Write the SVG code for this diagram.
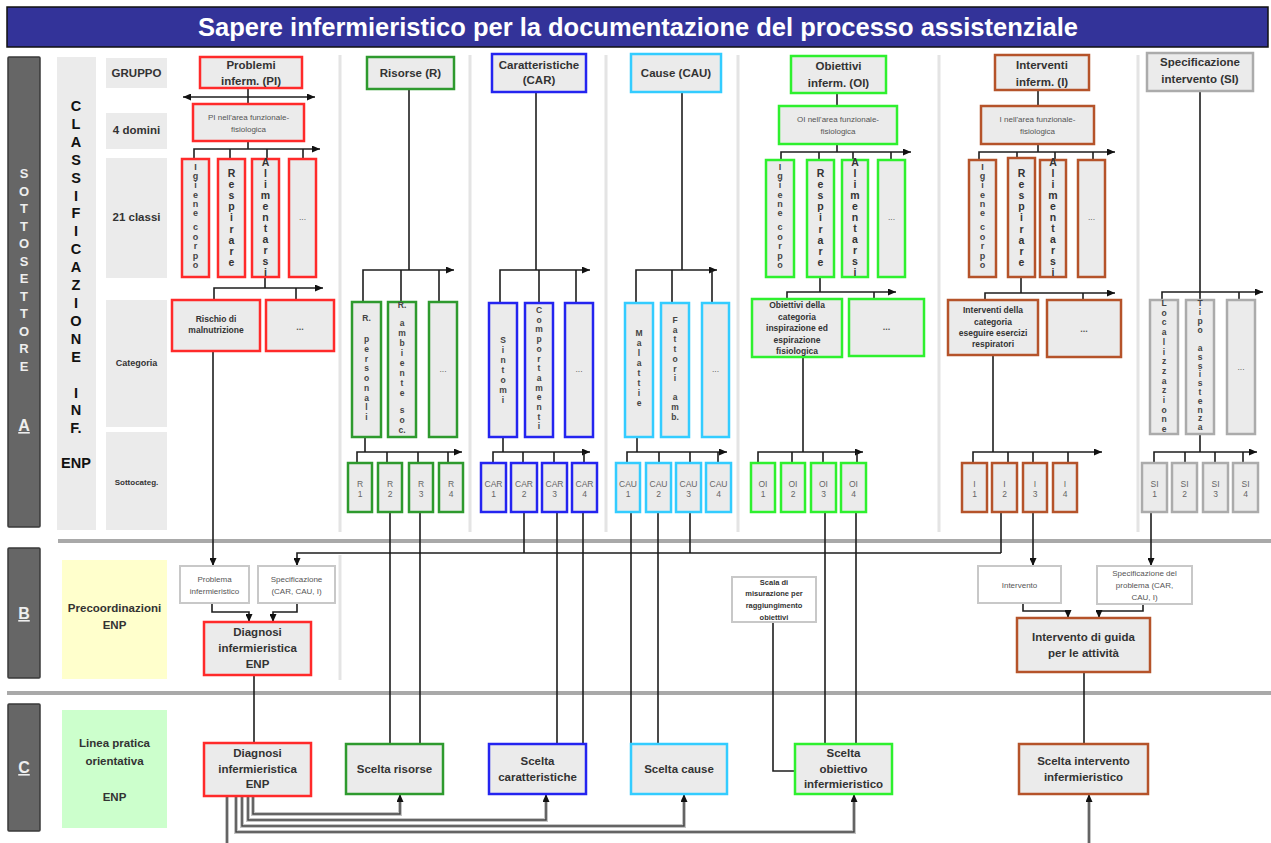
<svg xmlns="http://www.w3.org/2000/svg" width="1271" height="843" viewBox="0 0 1271 843">
<defs>
<style>
text{font-family:"Liberation Sans",Arial,sans-serif}
.bx{fill:#ebebeb;stroke-width:2.5}
.red{stroke:#ff2a2a}
.grn{stroke:#2e9a2e}
.blu{stroke:#2424f0}
.cya{stroke:#33ccff}
.lim{stroke:#2ef02e}
.brn{stroke:#b5532a}
.gry{stroke:#ababab}
.wb{fill:#fff;stroke:#c8c8c8;stroke-width:2}
.lab{fill:#ebebeb}
.bar{fill:#666;stroke:#3a3a3a;stroke-width:1.5}
.sep{stroke:#e4e4e4;stroke-width:3}
.hsep{stroke:#a9a9a9;stroke-width:4}
.ln{stroke:#1e1e1e;stroke-width:1.6;fill:none}
.ul{stroke:#c4c4c4;stroke-width:4;fill:none}
.ln3{stroke:#444;stroke-width:1.5;fill:none}
.hd{font-size:11.5px;font-weight:bold;fill:#333;text-anchor:middle}
.rl{font-size:11.5px;font-weight:bold;fill:#333;text-anchor:middle}
.sm{font-size:8px;fill:#555;text-anchor:middle}
.smb{font-size:7.5px;font-weight:bold;fill:#333;text-anchor:middle}
.v8{font-size:8.5px;font-weight:bold;fill:#444;text-anchor:middle}
.v9{font-size:9px;font-weight:bold;fill:#444;text-anchor:middle}
.v10{font-size:10.5px;font-weight:bold;fill:#333;text-anchor:middle}
.sb{font-size:8.5px;fill:#666;text-anchor:middle}
.cat{font-size:8.5px;font-weight:bold;fill:#333;text-anchor:middle}
.bg{font-size:11.5px;font-weight:bold;fill:#333;text-anchor:middle}
.cl{font-size:14.5px;font-weight:bold;fill:#111;text-anchor:middle}
.wl{font-size:13px;font-weight:bold;fill:#eee;text-anchor:middle}
.dots{font-size:9px;font-weight:bold;fill:#555;text-anchor:middle}
</style>
<marker id="ah" viewBox="0 0 8 7" refX="8" refY="3.5" markerWidth="8" markerHeight="7" markerUnits="userSpaceOnUse" orient="auto-start-reverse"><path d="M0,0 L8,3.5 L0,7 z" fill="#111"/></marker>
<text id="vIgiene" class="v9" x="0 0 0 0 0 0 0 0 0 0 0 0" y="170 179.2 188.4 197.6 206.8 216 223 230 239.5 249 258.5 268">Igiene corpo</text>
<text id="vResp" class="v10" x="0 0 0 0 0 0 0 0 0" y="177 188.1 199.2 210.3 221.4 232.5 243.6 254.7 265.8">Respirare</text>
<text id="vAlim" class="v10" x="0 0 0 0 0 0 0 0 0 0 0" y="166 177 188 199 210 221 232 243 254 265 276">Alimentarsi</text>
</defs>

<rect width="1271" height="843" fill="#fff"/>

<g id="title">
<rect x="7" y="7" width="1261" height="40" fill="#333399" stroke="#111" stroke-width="1.5"/>
<text x="638" y="36" font-size="25.5" font-weight="bold" fill="#fff" text-anchor="middle">Sapere infermieristico per la documentazione del processo assistenziale</text>
</g>

<g id="separators">
<line class="sep" x1="340" y1="55" x2="340" y2="532"/>
<line class="sep" x1="470" y1="55" x2="470" y2="532"/>
<line class="sep" x1="606" y1="55" x2="606" y2="532"/>
<line class="sep" x1="738" y1="55" x2="738" y2="532"/>
<line class="sep" x1="939" y1="55" x2="939" y2="532"/>
<line class="sep" x1="1138" y1="55" x2="1138" y2="532"/>
<line class="sep" x1="340" y1="555" x2="340" y2="680"/>
<line class="hsep" x1="58" y1="541" x2="1271" y2="541"/>
<line class="hsep" x1="7" y1="693" x2="1271" y2="693"/>
</g>

<g id="sectionA-bar">
<rect class="bar" x="8" y="57" width="32" height="470" rx="1"/>
<text class="wl" x="24 24 24 24 24 24 24 24 24 24 24 24" y="178 195.5 213 230.5 248 265.5 283 300.5 318 335.5 353 370.5">SOTTOSETTORE</text>
<text x="24" y="431" font-size="16" font-weight="bold" fill="#eee" text-anchor="middle" text-decoration="underline">A</text>
</g>

<g id="classificazione">
<rect class="lab" x="57" y="57" width="39" height="473"/>
<text class="cl" x="76 76 76 76 76 76 76 76 76 76 76 76 76 76 76" y="111 128.9 146.8 164.7 182.6 200.5 218.4 236.3 254.2 272.1 290 307.9 325.8 343.7 361.6">CLASSIFICAZIONE</text>
<text class="cl" x="76" y="398">I</text>
<text class="cl" x="76" y="415">N</text>
<text class="cl" x="76" y="433">F.</text>
<text class="cl" x="76" y="468">ENP</text>
</g>

<g id="row-labels">
<rect class="lab" x="106" y="58" width="61" height="30"/>
<text class="rl" x="136.5" y="77">GRUPPO</text>
<rect class="lab" x="106" y="113" width="61" height="36"/>
<text class="rl" x="136.5" y="134">4 domini</text>
<rect class="lab" x="106" y="158" width="61" height="120"/>
<text class="rl" x="136.5" y="221">21 classi</text>
<rect class="lab" x="106" y="300" width="61" height="127"/>
<text x="136.5" y="366" font-size="9" font-weight="bold" fill="#333" text-anchor="middle">Categoria</text>
<rect class="lab" x="106" y="432" width="61" height="98"/>
<text x="136.5" y="485" font-size="8" font-weight="bold" fill="#333" text-anchor="middle">Sottocateg.</text>
</g>

<g id="connectors">
<path class="ln" d="M248,88 V104"/>
<path class="ln" d="M183,97 H315" marker-start="url(#ah)" marker-end="url(#ah)"/>
<path class="ln" d="M248,141 V149"/>
<path class="ln" d="M194,159 V149 H320" marker-end="url(#ah)"/>
<path class="ln" d="M230,149 V159 M267,149 V159 M303,149 V159"/>
<path class="ln" d="M265,277 V288"/>
<path class="ln" d="M214,300 V288 H323" marker-end="url(#ah)"/>
<path class="ln" d="M296,288 V300"/>
<path class="ln" d="M213,351 V566" marker-end="url(#ah)"/>
<path class="ln" d="M409,89 V270"/>
<path class="ln" d="M363,302 V270 H454" marker-end="url(#ah)"/>
<path class="ln" d="M401,270 V302 M439,270 V302"/>
<path class="ln" d="M365,437 V452"/>
<path class="ln" d="M357,463 V452 H462" marker-end="url(#ah)"/>
<path class="ln" d="M387,452 V463 M418,452 V463 M448,452 V463"/>
<path class="ln" d="M536,92 V270"/>
<path class="ln" d="M500,303 V270 H590" marker-end="url(#ah)"/>
<path class="ln" d="M539,270 V303 M576,270 V303"/>
<path class="ln" d="M503,437 V452"/>
<path class="ln" d="M493,463 V452 H590" marker-end="url(#ah)"/>
<path class="ln" d="M523,452 V463 M554,452 V463 M584,452 V463"/>
<path class="ln" d="M682,92 V270"/>
<path class="ln" d="M636,303 V270 H717" marker-end="url(#ah)"/>
<path class="ln" d="M672,270 V303 M712,270 V303"/>
<path class="ln" d="M637,437 V452"/>
<path class="ln" d="M627,463 V452 H727" marker-end="url(#ah)"/>
<path class="ln" d="M659,452 V463 M690,452 V463 M718,452 V463"/>
<path class="ln" d="M837,93 V106"/>
<path class="ln" d="M837,144 V152"/>
<path class="ln" d="M781,160 V152 H911" marker-end="url(#ah)"/>
<path class="ln" d="M819,152 V160 M853,152 V160 M891,152 V160"/>
<path class="ln" d="M820,277 V292"/>
<path class="ln" d="M787,299 V292 H896" marker-end="url(#ah)"/>
<path class="ln" d="M874,292 V299"/>
<path class="ln" d="M803,357 V452"/>
<path class="ln" d="M758,463 V452 H863" marker-end="url(#ah)"/>
<path class="ln" d="M792,452 V463 M823,452 V463 M857,452 V463"/>
<path class="ln" d="M1038,90 V106"/>
<path class="ln" d="M1038,144 V152"/>
<path class="ln" d="M979,160 V152 H1115" marker-end="url(#ah)"/>
<path class="ln" d="M1017,152 V160 M1055,152 V160 M1093,152 V160"/>
<path class="ln" d="M1021,277 V293"/>
<path class="ln" d="M985,300 V293 H1115" marker-end="url(#ah)"/>
<path class="ln" d="M1083,293 V300"/>
<path class="ln" d="M993,355 V452"/>
<path class="ln" d="M973,463 V452 H1102" marker-end="url(#ah)"/>
<path class="ln" d="M1008,452 V463 M1033,452 V463 M1068,452 V463"/>
<path class="ln" d="M1200,91 V300"/>
<path class="ln" d="M1162,300 V292 H1263" marker-end="url(#ah)"/>
<path class="ln" d="M1239,292 V300"/>
<path class="ln" d="M1200,434 V452"/>
<path class="ln" d="M1154,463 V452 H1257" marker-end="url(#ah)"/>
<path class="ln" d="M1185,452 V463 M1215,452 V463 M1243,452 V463"/>
<path class="ln" d="M390,512 V744 M420,512 V744"/>
<path class="ln" d="M524,512 V553"/>
<path class="ln" d="M557,512 V744 M583,512 V744"/>
<path class="ln" d="M631,512 V744 M658,512 V744"/>
<path class="ln" d="M690,512 V553"/>
<path class="ln" d="M825,512 V744 M856,512 V744"/>
<path class="ln" d="M1001,512 V553"/>
<path class="ln" d="M1033,512 V566" marker-end="url(#ah)"/>
<path class="ln" d="M1151,512 V566" marker-end="url(#ah)"/>
<path class="ln" d="M1001,553 H297 V566" marker-end="url(#ah)"/>
<path class="ln" d="M212,603 V612 H249 V622" marker-end="url(#ah)"/>
<path class="ln" d="M297,603 V612 H273 V622" marker-end="url(#ah)"/>
<path class="ln" d="M254,675 V743"/>
<path class="ln" d="M773,622 V771 H795"/>
<path class="ln" d="M1023,603 V611 H1068 V618" marker-end="url(#ah)"/>
<path class="ln" d="M1143,603 V611 H1099 V618" marker-end="url(#ah)"/>
<path class="ln" d="M1084,672 V744"/>
<path class="ul" d="M253,796 V814 H400 V800 M248,796 V820 H546 V800 M242,796 V826 H684 V800 M236,796 V832 H854 V800 M227,796 V843 M1089,843 V800"/>
<path class="ln3" d="M253,796 V814 H400 V794" marker-end="url(#ah)"/>
<path class="ln3" d="M248,796 V820 H546 V794" marker-end="url(#ah)"/>
<path class="ln3" d="M242,796 V826 H684 V794" marker-end="url(#ah)"/>
<path class="ln3" d="M236,796 V832 H854 V794" marker-end="url(#ah)"/>
<path class="ln3" d="M227,796 V843"/>
<path class="ln3" d="M1089,843 V794" marker-end="url(#ah)"/>
</g>

<g id="pi-header"><rect class="bx red" x="200" y="57" width="102" height="31"/>
<text class="hd" x="251" y="69">Problemi</text><text class="hd" x="251" y="85">inferm. (PI)</text></g>
<g id="pi-dom"><rect class="bx red" x="193" y="104" width="111" height="37"/>
<text class="sm" x="248.5" y="120">PI nell'area funzionale-</text><text class="sm" x="248.5" y="132">fisiologica</text></g>
<g id="pi-c1"><rect class="bx red" x="182" y="159" width="27" height="118"/><use href="#vIgiene" x="195.5"/></g>
<g id="pi-c2"><rect class="bx red" x="218" y="159" width="27" height="118"/><use href="#vResp" x="231.5"/></g>
<g id="pi-c3"><rect class="bx red" x="252" y="159" width="27" height="118"/><use href="#vAlim" x="265.5"/></g>
<g id="pi-c4"><rect class="bx red" x="289" y="159" width="27" height="118"/><text class="sb" x="302.5" y="220">...</text></g>
<g id="pi-cat1"><rect class="bx red" x="172" y="300" width="88" height="51"/>
<text class="cat" x="216" y="322">Rischio di</text><text class="cat" x="216" y="333">malnutrizione</text></g>
<g id="pi-cat2"><rect class="bx red" x="266" y="300" width="68" height="51"/><text class="dots" x="300" y="330">...</text></g>

<g id="r-header"><rect class="bx grn" x="367" y="57" width="87" height="32"/><text class="hd" x="410.5" y="77">Risorse (R)</text></g>
<g id="r-c1"><rect class="bx grn" x="352" y="302" width="29" height="135"/>
<text class="v8" x="366.5" y="321">R.</text>
<text class="v8" x="366.5 366.5 366.5 366.5 366.5 366.5 366.5 366.5 366.5" y="342 351.75 361.5 371.25 381 390.75 400.5 410.25 420">personali</text></g>
<g id="r-c2"><rect class="bx grn" x="388" y="302" width="28" height="135"/>
<text class="v8" x="402" y="308">R.</text>
<text class="v8" x="402 402 402 402 402 402 402 402" y="326 336 346 356 366 376 386 396">ambiente</text>
<text class="v8" x="402 402" y="413 423">so</text><text class="v8" x="402" y="433">c.</text></g>
<g id="r-c3"><rect class="bx grn" x="429" y="302" width="28" height="135"/><text class="sb" x="443" y="372">...</text></g>
<g id="r-s1"><rect class="bx grn" x="348" y="463" width="24" height="49"/><text class="sb" x="360" y="487">R</text><text class="sb" x="360" y="497">1</text></g>
<g id="r-s2"><rect class="bx grn" x="378" y="463" width="24" height="49"/><text class="sb" x="390" y="487">R</text><text class="sb" x="390" y="497">2</text></g>
<g id="r-s3"><rect class="bx grn" x="409" y="463" width="24" height="49"/><text class="sb" x="421" y="487">R</text><text class="sb" x="421" y="497">3</text></g>
<g id="r-s4"><rect class="bx grn" x="439" y="463" width="24" height="49"/><text class="sb" x="451" y="487">R</text><text class="sb" x="451" y="497">4</text></g>

<g id="car-header"><rect class="bx blu" x="492" y="54" width="94" height="38"/>
<text class="hd" x="539" y="69" font-size="10.5">Caratteristiche</text><text class="hd" x="539" y="84">(CAR)</text></g>
<g id="car-c1"><rect class="bx blu" x="489" y="303" width="28" height="134"/>
<text class="v8" x="503 503 503 503 503 503 503" y="343 353 363 373 383 393 403">Sintomi</text></g>
<g id="car-c2"><rect class="bx blu" x="525" y="303" width="28" height="134"/>
<text class="v8" x="539 539 539 539 539 539 539 539 539 539 539 539 539" y="313 322.7 332.4 342.1 351.8 361.5 371.2 380.9 390.6 400.3 410 419.7 429.4">Comportamenti</text></g>
<g id="car-c3"><rect class="bx blu" x="565" y="303" width="28" height="134"/><text class="sb" x="579" y="372">...</text></g>
<g id="car-s1"><rect class="bx blu" x="481" y="463" width="25" height="49"/><text class="sb" x="493.5" y="487">CAR</text><text class="sb" x="493.5" y="497">1</text></g>
<g id="car-s2"><rect class="bx blu" x="511" y="463" width="26" height="49"/><text class="sb" x="524" y="487">CAR</text><text class="sb" x="524" y="497">2</text></g>
<g id="car-s3"><rect class="bx blu" x="542" y="463" width="25" height="49"/><text class="sb" x="554.5" y="487">CAR</text><text class="sb" x="554.5" y="497">3</text></g>
<g id="car-s4"><rect class="bx blu" x="572" y="463" width="25" height="49"/><text class="sb" x="584.5" y="487">CAR</text><text class="sb" x="584.5" y="497">4</text></g>

<g id="cau-header"><rect class="bx cya" x="631" y="54" width="90" height="38"/><text class="hd" x="676" y="77">Cause (CAU)</text></g>
<g id="cau-c1"><rect class="bx cya" x="625" y="303" width="28" height="134"/>
<text class="v8" x="639 639 639 639 639 639 639 639" y="336 346 356 366 376 386 396 406">Malattie</text></g>
<g id="cau-c2"><rect class="bx cya" x="661" y="303" width="28" height="134"/>
<text class="v8" x="675 675 675 675 675 675 675" y="323 332.7 342.4 352.1 361.8 371.5 381.2">Fattori</text>
<text class="v8" x="675 675" y="400 410">am</text><text class="v8" x="675" y="420">b.</text></g>
<g id="cau-c3"><rect class="bx cya" x="702" y="303" width="27" height="134"/><text class="sb" x="715.5" y="372">...</text></g>
<g id="cau-s1"><rect class="bx cya" x="616" y="463" width="24" height="49"/><text class="sb" x="628" y="487">CAU</text><text class="sb" x="628" y="497">1</text></g>
<g id="cau-s2"><rect class="bx cya" x="646" y="463" width="25" height="49"/><text class="sb" x="658.5" y="487">CAU</text><text class="sb" x="658.5" y="497">2</text></g>
<g id="cau-s3"><rect class="bx cya" x="676" y="463" width="25" height="49"/><text class="sb" x="688.5" y="487">CAU</text><text class="sb" x="688.5" y="497">3</text></g>
<g id="cau-s4"><rect class="bx cya" x="706" y="463" width="25" height="49"/><text class="sb" x="718.5" y="487">CAU</text><text class="sb" x="718.5" y="497">4</text></g>

<g id="oi-header"><rect class="bx lim" x="791" y="56" width="95" height="37"/>
<text class="hd" x="838.5" y="70">Obiettivi</text><text class="hd" x="838.5" y="87">inferm. (OI)</text></g>
<g id="oi-dom"><rect class="bx lim" x="779" y="106" width="118" height="38"/>
<text class="sm" x="838" y="122">OI nell'area funzionale-</text><text class="sm" x="838" y="134">fisiologica</text></g>
<g id="oi-c1"><rect class="bx lim" x="766" y="160" width="28" height="117"/><use href="#vIgiene" x="780"/></g>
<g id="oi-c2"><rect class="bx lim" x="807" y="160" width="27" height="117"/><use href="#vResp" x="820.5"/></g>
<g id="oi-c3"><rect class="bx lim" x="842" y="160" width="26" height="117"/><use href="#vAlim" x="855"/></g>
<g id="oi-c4"><rect class="bx lim" x="878" y="160" width="27" height="117"/><text class="sb" x="891.5" y="220">...</text></g>
<g id="oi-cat1"><rect class="bx lim" x="752" y="299" width="90" height="58"/>
<text class="cat" x="797" y="308">Obiettivi della</text><text class="cat" x="797" y="320">categoria</text><text class="cat" x="797" y="331">inspirazione ed</text><text class="cat" x="797" y="343">espirazione</text><text class="cat" x="797" y="354">fisiologica</text></g>
<g id="oi-cat2"><rect class="bx lim" x="849" y="299" width="75" height="57"/><text class="dots" x="886.5" y="330">...</text></g>
<g id="oi-s1"><rect class="bx lim" x="751" y="463" width="24" height="49"/><text class="sb" x="763" y="487">OI</text><text class="sb" x="763" y="497">1</text></g>
<g id="oi-s2"><rect class="bx lim" x="781" y="463" width="24" height="49"/><text class="sb" x="793" y="487">OI</text><text class="sb" x="793" y="497">2</text></g>
<g id="oi-s3"><rect class="bx lim" x="811" y="463" width="25" height="49"/><text class="sb" x="823.5" y="487">OI</text><text class="sb" x="823.5" y="497">3</text></g>
<g id="oi-s4"><rect class="bx lim" x="841" y="463" width="25" height="49"/><text class="sb" x="853.5" y="487">OI</text><text class="sb" x="853.5" y="497">4</text></g>

<g id="i-header"><rect class="bx brn" x="995" y="55" width="94" height="35"/>
<text class="hd" x="1042" y="69">Interventi</text><text class="hd" x="1042" y="86">inferm. (I)</text></g>
<g id="i-dom"><rect class="bx brn" x="981" y="106" width="113" height="38"/>
<text class="sm" x="1037.5" y="122">I nell'area funzionale-</text><text class="sm" x="1037.5" y="134">fisiologica</text></g>
<g id="i-c1"><rect class="bx brn" x="969" y="160" width="27" height="117"/><use href="#vIgiene" x="982.5"/></g>
<g id="i-c2"><rect class="bx brn" x="1008" y="158" width="27" height="119"/><use href="#vResp" x="1021.5"/></g>
<g id="i-c3"><rect class="bx brn" x="1040" y="160" width="26" height="117"/><use href="#vAlim" x="1053"/></g>
<g id="i-c4"><rect class="bx brn" x="1078" y="160" width="27" height="117"/><text class="sb" x="1091.5" y="220">...</text></g>
<g id="i-cat1"><rect class="bx brn" x="948" y="300" width="90" height="55"/>
<text class="cat" x="993" y="313">Interventi della</text><text class="cat" x="993" y="325">categoria</text><text class="cat" x="993" y="336">eseguire esercizi</text><text class="cat" x="993" y="347">respiratori</text></g>
<g id="i-cat2"><rect class="bx brn" x="1047" y="300" width="74" height="57"/><text class="dots" x="1084" y="332">...</text></g>
<g id="i-s1"><rect class="bx brn" x="962" y="463" width="25" height="49"/><text class="sb" x="974.5" y="487">I</text><text class="sb" x="974.5" y="497">1</text></g>
<g id="i-s2"><rect class="bx brn" x="992" y="463" width="25" height="49"/><text class="sb" x="1004.5" y="487">I</text><text class="sb" x="1004.5" y="497">2</text></g>
<g id="i-s3"><rect class="bx brn" x="1023" y="463" width="24" height="49"/><text class="sb" x="1035" y="487">I</text><text class="sb" x="1035" y="497">3</text></g>
<g id="i-s4"><rect class="bx brn" x="1053" y="463" width="24" height="49"/><text class="sb" x="1065" y="487">I</text><text class="sb" x="1065" y="497">4</text></g>

<g id="si-header"><rect class="bx gry" x="1147" y="53" width="106" height="38"/>
<text class="hd" x="1200" y="66" font-size="11">Specificazione</text><text class="hd" x="1200" y="83" font-size="11">intervento (SI)</text></g>
<g id="si-c1"><rect class="bx gry" x="1150" y="300" width="28" height="134"/>
<text class="v8" x="1164 1164 1164 1164 1164 1164 1164 1164 1164 1164 1164 1164 1164 1164" y="306 315.7 325.4 335.1 344.8 354.5 364.2 373.9 383.6 393.3 403 412.7 422.4 432.1">Localizzazione</text></g>
<g id="si-c2"><rect class="bx gry" x="1186" y="300" width="28" height="134"/>
<text class="v8" x="1200 1200 1200 1200" y="306 315 324 333">Tipo</text>
<text class="v8" x="1200 1200 1200 1200 1200 1200 1200 1200 1200 1200" y="351 359.8 368.6 377.4 386.2 395 403.8 412.6 421.4 430.2">assistenza</text></g>
<g id="si-c3"><rect class="bx gry" x="1227" y="300" width="28" height="134"/><text class="sb" x="1241" y="370">...</text></g>
<g id="si-s1"><rect class="bx gry" x="1142" y="463" width="25" height="49"/><text class="sb" x="1154.5" y="487">SI</text><text class="sb" x="1154.5" y="497">1</text></g>
<g id="si-s2"><rect class="bx gry" x="1172" y="463" width="25" height="49"/><text class="sb" x="1184.5" y="487">SI</text><text class="sb" x="1184.5" y="497">2</text></g>
<g id="si-s3"><rect class="bx gry" x="1203" y="463" width="25" height="49"/><text class="sb" x="1215.5" y="487">SI</text><text class="sb" x="1215.5" y="497">3</text></g>
<g id="si-s4"><rect class="bx gry" x="1233" y="463" width="25" height="49"/><text class="sb" x="1245.5" y="487">SI</text><text class="sb" x="1245.5" y="497">4</text></g>

<g id="sectionB-bar"><rect class="bar" x="8" y="548" width="32" height="130" rx="1"/>
<text x="24" y="619" font-size="16" font-weight="bold" fill="#eee" text-anchor="middle" text-decoration="underline">B</text></g>
<g id="precoord"><rect x="62" y="560" width="105" height="119" fill="#ffffcc"/>
<text class="rl" x="114.5" y="612">Precoordinazioni</text><text class="rl" x="114.5" y="629">ENP</text></g>
<g id="problema"><rect class="wb" x="180" y="566" width="69" height="37"/>
<text class="sm" x="214.5" y="582">Problema</text><text class="sm" x="214.5" y="594">infermieristico</text></g>
<g id="specificazione"><rect class="wb" x="258" y="566" width="77" height="37"/>
<text class="sm" x="296.5" y="582">Specificazione</text><text class="sm" x="296.5" y="594">(CAR, CAU, I)</text></g>
<g id="diagnosi-b"><rect class="bx red" x="204" y="622" width="107" height="53"/>
<text class="bg" x="257.5" y="636">Diagnosi</text><text class="bg" x="257.5" y="652">infermieristica</text><text class="bg" x="257.5" y="668">ENP</text></g>
<g id="scala"><rect class="wb" x="732" y="577" width="84" height="45"/>
<text class="smb" x="774" y="585">Scala di</text><text class="smb" x="774" y="596">misurazione per</text><text class="smb" x="774" y="608">raggiungimento</text><text class="smb" x="774" y="620">obiettivi</text></g>
<g id="intervento"><rect class="wb" x="978" y="566" width="83" height="37"/><text class="sm" x="1019.5" y="588">Intervento</text></g>
<g id="spec-problema"><rect class="wb" x="1097" y="566" width="95" height="38"/>
<text class="sm" x="1144.5" y="576">Specificazione del</text><text class="sm" x="1144.5" y="588">problema (CAR,</text><text class="sm" x="1144.5" y="600">CAU, I)</text></g>
<g id="guida"><rect class="bx brn" x="1017" y="618" width="133" height="54"/>
<text class="bg" x="1083.5" y="641">Intervento di guida</text><text class="bg" x="1083.5" y="657">per le attività</text></g>

<g id="sectionC-bar"><rect class="bar" x="8" y="704" width="32" height="127" rx="1"/>
<text x="24" y="773" font-size="16" font-weight="bold" fill="#eee" text-anchor="middle" text-decoration="underline">C</text></g>
<g id="linea"><rect x="62" y="710" width="105" height="118" fill="#ccffcc"/>
<text class="bg" x="114.5" y="747" font-size="12.5">Linea pratica</text><text class="bg" x="114.5" y="765" font-size="12.5">orientativa</text><text class="bg" x="114.5" y="801" font-size="12.5">ENP</text></g>
<g id="diagnosi-c"><rect class="bx red" x="204" y="743" width="107" height="53"/>
<text class="bg" x="257.5" y="757">Diagnosi</text><text class="bg" x="257.5" y="773">infermieristica</text><text class="bg" x="257.5" y="788">ENP</text></g>
<g id="scelta-risorse"><rect class="bx grn" x="346" y="744" width="97" height="50"/><text class="bg" x="394.5" y="773">Scelta risorse</text></g>
<g id="scelta-car"><rect class="bx blu" x="489" y="744" width="97" height="50"/>
<text class="bg" x="537.5" y="765">Scelta</text><text class="bg" x="537.5" y="781">caratteristiche</text></g>
<g id="scelta-cause"><rect class="bx cya" x="631" y="744" width="96" height="50"/><text class="bg" x="679" y="773">Scelta cause</text></g>
<g id="scelta-obiettivo"><rect class="bx lim" x="795" y="744" width="97" height="50"/>
<text class="bg" x="843.5" y="757">Scelta</text><text class="bg" x="843.5" y="773">obiettivo</text><text class="bg" x="843.5" y="788">infermieristico</text></g>
<g id="scelta-intervento"><rect class="bx brn" x="1019" y="744" width="129" height="50"/>
<text class="bg" x="1083.5" y="765">Scelta intervento</text><text class="bg" x="1083.5" y="781">infermieristico</text></g>
</svg>
